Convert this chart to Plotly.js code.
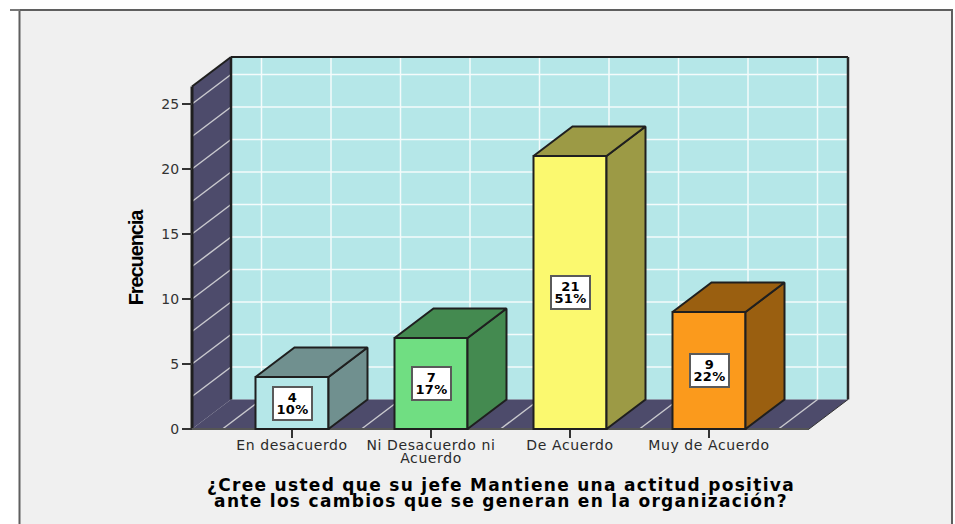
<!DOCTYPE html>
<html>
<head>
<meta charset="utf-8">
<script src="https://cdn.plot.ly/plotly-3.0.1.min.js"></script>
<style>html,body{margin:0;padding:0;background:#fff;overflow:hidden}</style>
</head>
<body>
<div id="chart" style="width:955px;height:524px"></div>
<script>
// Data
const categories = ["En desacuerdo", "Ni Desacuerdo ni<br>Acuerdo", "De Acuerdo", "Muy de Acuerdo"];
const frequencies = [4, 7, 21, 9];
const percents = ["10%", "17%", "51%", "22%"];
const frontColors = ["#b5e7e8", "#70de82", "#fbf96f", "#fb9a1c"];
const sideColors = ["#70908f", "#448a50", "#9c9a45", "#9a5f10"];
const yTicks = [0, 5, 10, 15, 20, 25];
const xTitle = "¿Cree usted que su jefe Mantiene una actitud positiva<br>ante los cambios que se generan en la organización?";
const yTitle = "Frecuencia";

// Pseudo-3D geometry, expressed in axis units
const W = 955, H = 524;
const pxX = 139, pxY = 13;           // pixels per category / per unit of frequency
const depthX = 39 / pxX, depthY = 29.5 / pxY;
const xL = -100 / pxX, xR = 517 / pxX;
const yTop = 26.35;
const barW = 73 / pxX;
const pad = 5;                       // spare pixels around the plot so edge strokes are not clipped
const ink = "#1f1f1f", gridBack = "#f4fbfb", gridSide = "#c9c9ce", wallDark = "#4d4b6b";

const poly = pts => "M" + pts.map(p => p[0] + "," + p[1]).join(" L") + " Z";
const line = (x0, y0, x1, y1, color, width) => ({type: "line", xref: "x", yref: "y", layer: "below",
  x0, y0, x1, y1, line: {color, width}});
const shapes = [];

// frame
shapes.push({type: "rect", xref: "paper", yref: "paper", layer: "below", x0: 19.5 / W, x1: 952 / W, y0: -0.01, y1: 1 - 10 / H,
  fillcolor: "#f0f0f0", line: {color: "#5f5f5f", width: 2}});
shapes.push({type: "line", xref: "paper", yref: "paper", layer: "below", x0: 10 / W, x1: 20 / W, y0: 1 - 10 / H, y1: 1 - 10 / H,
  line: {color: "#777", width: 2}});

// back wall, left wall, floor
shapes.push({type: "path", xref: "x", yref: "y", layer: "below", fillcolor: "#b5e7e8", line: {width: 0},
  path: poly([[xL + depthX, depthY], [xR + depthX, depthY], [xR + depthX, yTop + depthY], [xL + depthX, yTop + depthY]])});
shapes.push({type: "path", xref: "x", yref: "y", layer: "below", fillcolor: wallDark, line: {width: 0},
  path: poly([[xL, 0], [xL + depthX, depthY], [xL + depthX, yTop + depthY], [xL, yTop]])});
shapes.push({type: "path", xref: "x", yref: "y", layer: "below", fillcolor: wallDark, line: {width: 0},
  path: poly([[xL, 0], [xR, 0], [xR + depthX, depthY], [xL + depthX, depthY]])});

// grid lines
for (let v = 2.5; v <= 25; v += 2.5) {
  shapes.push(line(xL + depthX, v + depthY, xR + depthX, v + depthY, gridBack, 1.5));
  shapes.push(line(xL, v, xL + depthX, v + depthY, gridSide, 1.5));
}
for (let c = -0.5; c <= 3.5; c += 0.5) {
  shapes.push(line(c + depthX, depthY, c + depthX, yTop + depthY, gridBack, 1.5));
  shapes.push(line(c, 0, c + depthX, depthY, gridSide, 1.5));
}

// edges
shapes.push(line(xL, 0, xL, yTop, ink, 3));
shapes.push(line(xL, yTop, xL + depthX, yTop + depthY, ink, 2));
shapes.push(line(xL + depthX, depthY, xL + depthX, yTop + depthY, ink, 2.5));
shapes.push(line(xL + depthX, yTop + depthY, xR + depthX, yTop + depthY, ink, 2));
shapes.push(line(xR + depthX, depthY, xR + depthX, yTop + depthY, "#2a2a2a", 2.5));
shapes.push(line(xL, 0, xR, 0, "#555", 2));
shapes.push(line(xR, 0, xR + depthX, depthY, "#333", 1));

const xs = categories.map((_, i) => i);

// Bars: front face through the bar trace, side and top through scatter polygons
const traces = [{
  type: "bar", x: xs, y: frequencies, width: barW,
  marker: {color: frontColors, line: {color: ink, width: 2}},
  hoverinfo: "skip", showlegend: false
}];
xs.forEach(i => {
  const v = frequencies[i], l = i - barW / 2, r = i + barW / 2;
  const side = {x: [r, r + depthX, r + depthX, r, r], y: [0, depthY, v + depthY, v, 0]};
  const top = {x: [l, r, r + depthX, l + depthX, l], y: [v, v, v + depthY, v + depthY, v]};
  [side, top].forEach(f => traces.push({
    type: "scatter", mode: "lines", x: f.x, y: f.y, fill: "toself", fillcolor: sideColors[i],
    line: {color: ink, width: 2}, hoverinfo: "skip", showlegend: false
  }));
});

const annotations = xs.map(i => ({
  x: i, y: frequencies[i] / 2, xref: "x", yref: "y", showarrow: false,
  text: frequencies[i] + "<br>" + percents[i],
  align: "center", width: 37, height: 31, bgcolor: "#fff", bordercolor: "#5a5a5a", borderwidth: 2, borderpad: 0,
  font: {family: "DejaVu Sans, sans-serif", size: 13, color: "#000", weight: 700}
}));

const layout = {
  width: W, height: H, autosize: false,
  margin: {l: 0, r: 0, t: 0, b: 0, pad: 0},
  paper_bgcolor: "#ffffff", plot_bgcolor: "rgba(0,0,0,0)",
  showlegend: false, bargap: 0, shapes, annotations,
  xaxis: {
    domain: [(192 - pad) / W, (848 + pad) / W], range: [xL - pad / pxX, (556 + pad) / pxX], fixedrange: true,
    anchor: "free", position: (H - 429) / H,
    tickmode: "array", tickvals: xs, ticktext: categories, ticks: "outside", ticklen: 8, tickwidth: 1.5, tickcolor: "#333",
    ticklabelstandoff: -5,
    tickfont: {family: "DejaVu Sans, sans-serif", size: 14, color: "#2a2a2a"},
    showgrid: false, zeroline: false, showline: false, automargin: false,
    title: {text: xTitle, font: {family: "DejaVu Sans, sans-serif", size: 17, color: "#000", weight: 700}}
  },
  yaxis: {
    domain: [(H - 429 - pad) / H, (H - 57 + pad) / H], range: [-pad / pxY, (372 + pad) / pxY], fixedrange: true,
    anchor: "free", position: 192 / W,
    tickmode: "array", tickvals: yTicks, ticks: "outside", ticklen: 10, tickwidth: 1.5, tickcolor: "#333",
    tickfont: {family: "DejaVu Sans, sans-serif", size: 14, color: "#333"},
    showgrid: false, zeroline: false, showline: false, automargin: false,
    title: {text: yTitle, font: {family: "'Liberation Sans Narrow', 'Liberation Sans', sans-serif", size: 20, color: "#000", weight: 700}}
  }
};

// Final typographic adjustments to the compact, wide lettering of the original
function tighten() {
  const gd = document.getElementById("chart");
  const setDy = (sel, ems) => gd.querySelectorAll(sel).forEach(t => {
    t.querySelectorAll("tspan.line").forEach((s, i) => s.setAttribute("dy", ems(i)));
  });
  setDy(".xtitle", i => (i * 0.94) + "em");
  setDy(".xtick text", i => (i * 0.93) + "em");
  setDy(".annotation-text", i => (0.16 + i * 0.98) + "em");
  gd.querySelectorAll(".annotation-text").forEach(t => t.style.letterSpacing = "0.3px");
  gd.querySelectorAll(".xtick text").forEach(t => t.style.letterSpacing = "0.6px");
  const xt = gd.querySelector(".xtitle");
  xt.style.letterSpacing = "1.3px";
  xt.setAttribute("x", 501);
  xt.setAttribute("y", 491);
  xt.querySelectorAll("tspan.line").forEach(s => { s.setAttribute("x", 501); s.setAttribute("y", 491); });
  const yt = gd.querySelector(".ytitle");
  yt.style.letterSpacing = "-1.1px";
  yt.setAttribute("transform", "rotate(-90 143 258)");
  yt.setAttribute("x", 143);
  yt.setAttribute("y", 258);
}
Plotly.newPlot("chart", traces, layout, {displayModeBar: false, staticPlot: true}).then(tighten);
</script>
</body>
</html>
